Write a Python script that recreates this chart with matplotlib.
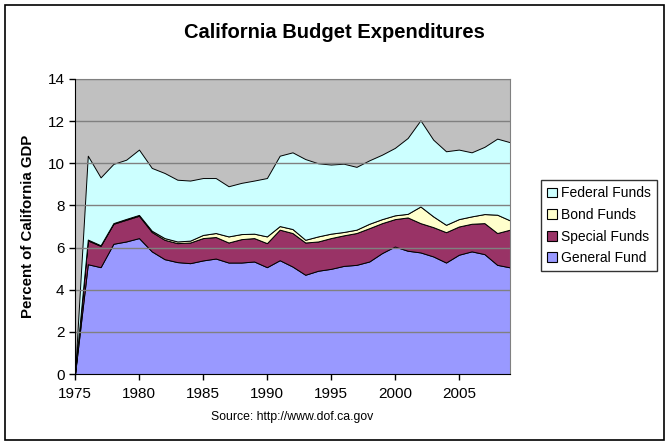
import numpy as np
import matplotlib.pyplot as plt
from matplotlib.patches import Rectangle

plt.rcParams['font.family'] = ['Liberation Sans', 'DejaVu Sans']

years = list(range(1975, 2010))

# percent of California GDP
general = [0.00, 5.21, 5.07, 6.18, 6.29, 6.45, 5.82, 5.45, 5.31, 5.26,
           5.39, 5.48, 5.29, 5.29, 5.34, 5.07, 5.40, 5.10, 4.71, 4.90,
           4.99, 5.13, 5.18, 5.34, 5.74, 6.05, 5.85, 5.77, 5.58, 5.29,
           5.66, 5.82, 5.69, 5.18, 5.06]
special = [0.00, 1.13, 1.01, 0.95, 1.03, 1.06, 0.92, 0.92, 0.90, 0.98,
           1.06, 1.02, 0.95, 1.11, 1.11, 1.14, 1.45, 1.59, 1.53, 1.39,
           1.46, 1.45, 1.51, 1.58, 1.42, 1.30, 1.58, 1.39, 1.39, 1.44,
           1.34, 1.31, 1.47, 1.51, 1.79]
bond = [0.00, 0.04, 0.03, 0.03, 0.04, 0.04, 0.06, 0.08, 0.08, 0.09,
        0.15, 0.19, 0.29, 0.24, 0.21, 0.32, 0.17, 0.19, 0.13, 0.24,
        0.21, 0.16, 0.16, 0.21, 0.19, 0.18, 0.17, 0.79, 0.51, 0.35,
        0.35, 0.35, 0.43, 0.87, 0.44]
federal = [0.00, 3.98, 3.22, 2.81, 2.81, 3.10, 2.98, 3.09, 2.93, 2.85,
           2.70, 2.61, 2.38, 2.43, 2.52, 2.77, 3.34, 3.64, 3.83, 3.47,
           3.28, 3.24, 2.98, 3.01, 3.06, 3.20, 3.60, 4.09, 3.64, 3.49,
           3.30, 3.04, 3.19, 3.61, 3.71]

labels = ['General Fund', 'Special Funds', 'Bond Funds', 'Federal Funds']
colors = ['#9999FF', '#993366', '#FFFFCC', '#CCFFFF']

W, H = 671, 446
fig = plt.figure(figsize=(W / 100, H / 100), dpi=100)
fig.patch.set_facecolor('white')

# plot area in pixels: x 75..510, y 79..374
ax = fig.add_axes([75 / W, 1 - 374 / H, (510 - 75) / W, (374 - 79) / H])
ax.set_facecolor('#C0C0C0')

ax.stackplot(years, general, special, bond, federal, colors=colors,
             edgecolor='black', linewidth=0.7, zorder=2)

ax.set_xlim(1975, 2009)
ax.set_ylim(0, 14)
ax.set_xticks(range(1975, 2010, 5))
ax.set_yticks(range(0, 15, 2))
for yv in range(2, 15, 2):
    ax.axhline(yv, color='#808080', lw=1, zorder=3)

ax.tick_params(direction='out', length=4, width=1, labelsize=11, colors='black')
ax.tick_params(axis='x', pad=5)
for side in ['top', 'right']:
    ax.spines[side].set_color('#808080')
for side in ['left', 'bottom']:
    ax.spines[side].set_color('black')
    ax.spines[side].set_zorder(4)

fig.text(334 / W, 1 - 32 / H, 'California Budget Expenditures',
         ha='center', va='center', fontsize=14.5, fontweight='bold')
fig.text(28 / W, 1 - 226 / H, 'Percent of California GDP', rotation=90,
         ha='center', va='center', fontsize=10.8, fontweight='bold')
fig.text(292 / W, 1 - 417 / H, 'Source: http://www.dof.ca.gov',
         ha='center', va='center', fontsize=8.8)

handles = [Rectangle((0, 0), 1, 1, facecolor=c, edgecolor='black', lw=0.8)
           for c in colors]
leg = fig.legend(handles[::-1], labels[::-1], loc='upper left',
                 bbox_to_anchor=(541 / W, 1 - 180 / H), fontsize=10,
                 frameon=True, fancybox=False, handlelength=0.7,
                 handleheight=0.7, handletextpad=0.3, labelspacing=0.55,
                 borderpad=0.45, borderaxespad=0)
leg.get_frame().set_edgecolor('black')
leg.get_frame().set_linewidth(1)

fig.patches.append(Rectangle((5 / W, 1 - 440 / H), (664 - 5) / W, (440 - 5) / H,
                             transform=fig.transFigure, fill=False,
                             edgecolor='black', lw=1.2))

fig.savefig('out.png', dpi=100)
